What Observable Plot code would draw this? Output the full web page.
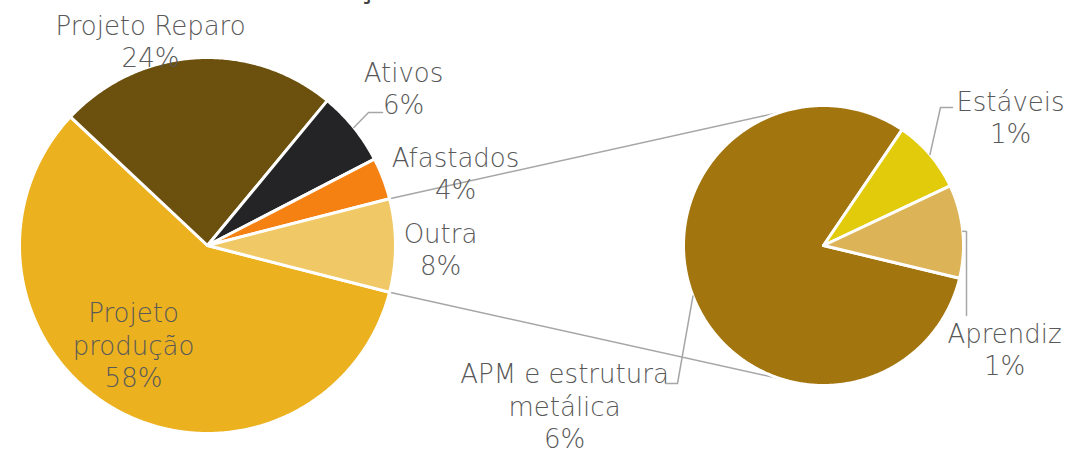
<!DOCTYPE html>
<html><head><meta charset="utf-8">
<script src="https://cdn.jsdelivr.net/npm/d3@7"></script>
<script src="https://cdn.jsdelivr.net/npm/@observablehq/plot@0.6"></script>
<style>
html,body{margin:0;padding:0;background:#fff;overflow:hidden}
</style>
</head><body><div id="chart"></div>
<script>
// ---- data ----
const mainCategories = ["Projeto produção", "Projeto Reparo", "Ativos", "Afastados", "Outra"];
const mainValues = [58, 24, 6.4, 3.6, 8];
const mainPercentLabels = ["58%", "24%", "6%", "4%", "8%"];
const mainLabelNames = ["Projeto\nprodução", "Projeto Reparo", "Ativos", "Afastados", "Outra"];

const subCategories = ["APM e estrutura metálica", "Estáveis", "Aprendiz"];
const subValues = [6.46, 0.68, 0.86];
const subPercentLabels = ["6%", "1%", "1%"];
const subLabelNames = ["APM e estrutura\nmetálica", "Estáveis", "Aprendiz"];

const categoryColors = ["#ECB11F", "#6C500E", "#242426", "#F58113", "#F0C966", "#A3750E", "#E2CB0A", "#DCB357"];

// ---- layout (positions / styles) ----
const W = 1066, H = 451;
const deg = Math.PI / 180;
const mainPie = {cx: 207, cy: 245, r: 188};
const subPie = {cx: 823, cy: 245, r: 140, start: 103.5 * deg};
const connectorSubAngles = [342.6 * deg, 197.4 * deg];
const labelPos = {
  "Projeto produção": [133, 344],
  "Projeto Reparo": [150, 40],
  "Ativos": [403, 87],
  "Afastados": [455, 172],
  "Outra": [440, 248],
  "APM e estrutura metálica": [564, 405],
  "Estáveis": [1010, 116],
  "Aprendiz": [1004, 348]
};
const leaderPath = {
  "Ativos": [[368, 112], [382, 112]],
  "Estáveis": [[940, 107], [952, 107]],
  "Aprendiz": [[966, 231], [966, 315]],
  "APM e estrutura metálica": [[677, 383], [665, 383]]
};
const textColor = "#595959";
const lineColor = "#A6A6A6";

// ---- geometry from data ----
const outraShare = mainValues[4] / d3.sum(mainValues);
const mainStart = Math.PI / 2 + outraShare * Math.PI;
const mainArcs = d3.pie().sort(null).value(d => d.v).startAngle(mainStart).endAngle(mainStart + 2 * Math.PI)(
  mainCategories.map((name, i) => ({name, v: mainValues[i], pct: mainPercentLabels[i], label: mainLabelNames[i]})));
const subArcs = d3.pie().sort(null).value(d => d.v).startAngle(subPie.start).endAngle(subPie.start + 2 * Math.PI)(
  subCategories.map((name, i) => ({name, v: subValues[i], pct: subPercentLabels[i], label: subLabelNames[i]})));

const pt = (p, a, r = p.r) => [p.cx + r * Math.sin(a), p.cy - r * Math.cos(a)];

function slicePoints(arc, p) {
  const name = arc.data.name;
  const pts = [{name, x: p.cx, y: p.cy}];
  const n = Math.max(2, Math.ceil((arc.endAngle - arc.startAngle) / (0.5 * deg)));
  for (let i = 0; i <= n; i++) {
    const a = arc.startAngle + (arc.endAngle - arc.startAngle) * i / n;
    const [x, y] = pt(p, a);
    pts.push({name, x, y});
  }
  pts.push({name, x: p.cx, y: p.cy});
  return pts;
}
const slices = [
  ...mainArcs.flatMap(a => slicePoints(a, mainPie)),
  ...subArcs.flatMap(a => slicePoints(a, subPie))
];

// connectors: from Outra edges in main pie to the secondary pie
const outraArc = mainArcs.find(a => a.data.name === "Outra");
const connectors = [];
[outraArc.startAngle, outraArc.endAngle].forEach((a, i) => {
  const [x1, y1] = pt(mainPie, a);
  const [x2, y2] = pt(subPie, connectorSubAngles[i]);
  connectors.push({id: i, x: x1, y: y1}, {id: i, x: x2, y: y2});
});

// leaders: from slice mid-angle on the rim to the label
const leaders = [];
[...mainArcs.map(a => [a, mainPie]), ...subArcs.map(a => [a, subPie])].forEach(([a, p]) => {
  const path = leaderPath[a.data.name];
  if (!path) return;
  const [x, y] = pt(p, (a.startAngle + a.endAngle) / 2);
  leaders.push({id: a.data.name, x, y});
  path.forEach(([px, py]) => leaders.push({id: a.data.name, x: px, y: py}));
});

const labels = [...mainArcs, ...subArcs].map(a => ({
  name: a.data.name,
  text: a.data.label + "\n" + a.data.pct,
  x: labelPos[a.data.name][0],
  y: labelPos[a.data.name][1]
}));

const chart = Plot.plot({
  width: W, height: H,
  margin: 0,
  x: {domain: [0, W], range: [0, W], axis: null},
  y: {domain: [0, H], range: [0, H], axis: null},
  color: {domain: [...mainCategories, ...subCategories], range: categoryColors},
  style: {background: "#fff", fontFamily: "'DejaVu Sans', sans-serif"},
  marks: [
    Plot.line(connectors, {x: "x", y: "y", z: "id", stroke: lineColor, strokeWidth: 1.5}),
    Plot.line(slices, {x: "x", y: "y", z: "name", fill: "name", stroke: "white", strokeWidth: 3, strokeLinejoin: "round"}),
    Plot.line(leaders, {x: "x", y: "y", z: "id", stroke: lineColor, strokeWidth: 1.5}),
    Plot.text(labels, {x: "x", y: "y", text: "text", fill: textColor, fontSize: 26, fontWeight: 200, lineHeight: 1.25, lineAnchor: "middle"}),
    Plot.text(["ç"], {frameAnchor: "top-left", dx: 358, dy: -21, fill: "#404040", fontSize: 26, fontWeight: "bold", textAnchor: "start", lineAnchor: "top"})
  ]
});
document.getElementById("chart").appendChild(chart);
</script>
</body></html>
